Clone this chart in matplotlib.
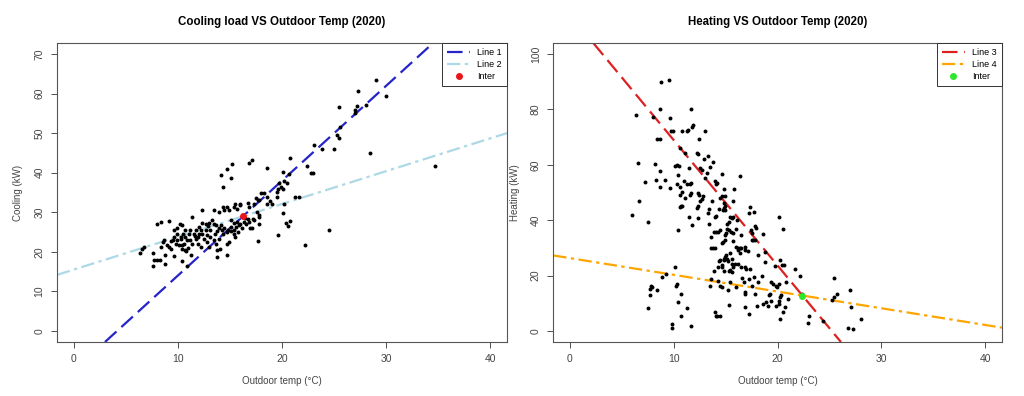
import matplotlib
matplotlib.use("Agg")
import matplotlib.pyplot as plt
import numpy as np

plt.rcParams['font.family'] = ['Liberation Sans', 'DejaVu Sans']

# cooling data (outdoor temp, kW)
cool_temp = [29.0, 27.3, 30.0, 25.5, 27.2, 27.0, 27.0, 28.1, 25.6, 25.3, 25.5, 23.1, 23.8, 25.0, 28.4,
             20.8, 22.4, 34.7, 22.8, 23.0, 20.1, 20.7, 18.6, 16.8, 17.1, 15.2, 14.7, 14.1, 15.1, 14.3,
             20.2, 19.7, 20.5, 19.9, 19.6, 20.1, 19.5, 19.5, 21.2, 21.6, 20.2, 20.1, 20.4, 20.6, 20.8,
             22.2, 24.5, 19.6, 17.7, 18.0, 18.3, 18.6, 18.8, 19.0, 18.6, 17.5, 17.7, 17.8, 17.3, 16.7,
             16.8, 16.0, 16.0, 15.5, 15.4, 15.7, 14.7, 14.9, 14.3, 14.4, 13.5, 13.9, 12.3, 11.4, 17.6,
             17.8, 17.2, 17.3, 17.8, 17.8, 16.7, 16.8, 16.3, 16.5, 16.9, 17.1, 16.2, 16.0, 15.7, 15.4,
             15.6, 15.4, 15.1, 15.1, 15.1, 14.8, 14.7, 14.3, 14.2, 14.4, 13.8, 13.9, 13.6, 13.5, 13.3,
             13.7, 13.0, 12.7, 12.3, 12.7, 12.3, 12.8, 13.1, 13.1, 12.2, 12.0, 11.7, 11.5, 11.2, 11.1,
             10.7, 10.5, 10.3, 10.7, 10.9, 10.6, 10.4, 10.4, 10.7, 10.3, 9.9, 9.8, 11.2, 11.4, 11.7,
             11.9, 11.9, 12.2, 12.5, 12.8, 13.0, 13.5, 13.7, 13.9, 11.3, 9.6, 9.5, 9.1, 9.3, 9.6,
             9.9, 9.9, 9.3, 9.0, 8.7, 10.2, 10.4, 8.4, 8.6, 8.0, 8.4, 9.1, 6.6, 6.4, 6.7, 7.6, 7.6,
             7.7, 8.0, 8.3, 8.8, 8.8, 9.6, 10.4, 10.9, 13.8, 13.8, 14.0, 14.7, 14.7, 14.9, 15.4, 15.5,
             15.8, 11.0, 10.1, 12.9, 11.6, 14.1, 16.4, 15.9, 12.0, 10.8]
cool_load = [63.5, 60.7, 59.4, 56.6, 56.8, 55.9, 55.0, 57.1, 51.5, 49.6, 48.8, 46.9, 46.1, 45.9, 45.0,
             43.8, 41.6, 41.7, 40.0, 40.0, 40.1, 39.8, 41.1, 42.4, 43.3, 42.2, 40.9, 39.3, 38.7, 36.5,
             37.9, 37.5, 37.5, 36.5, 36.0, 36.0, 35.2, 33.9, 33.8, 33.9, 32.1, 29.9, 27.3, 26.5, 27.8,
             21.7, 25.4, 24.3, 22.8, 34.8, 34.8, 33.9, 32.8, 32.2, 32.2, 33.5, 33.1, 33.1, 32.2, 32.4,
             31.4, 32.2, 31.8, 32.2, 31.4, 30.8, 31.4, 30.7, 31.4, 30.5, 30.5, 30.0, 30.5, 28.8, 30.1,
             29.3, 28.4, 28.0, 27.1, 28.8, 28.4, 27.6, 27.6, 27.1, 26.0, 26.0, 25.9, 27.1, 27.6, 27.3,
             26.3, 25.4, 28.0, 26.3, 25.3, 25.4, 24.9, 24.6, 25.4, 26.0, 25.3, 26.0, 24.6, 27.1, 28.0,
             26.7, 27.3, 27.0, 27.3, 25.4, 24.6, 24.2, 25.4, 23.7, 25.4, 26.3, 25.4, 24.6, 25.4, 24.6,
             25.4, 24.6, 23.7, 23.7, 22.9, 22.1, 21.6, 20.8, 20.5, 23.3, 22.9, 22.1, 22.9, 22.1, 23.3,
             23.7, 22.1, 21.2, 23.3, 22.5, 21.2, 22.9, 22.1, 23.3, 19.3, 23.7, 22.9, 21.2, 20.8, 25.4,
             24.6, 25.9, 22.7, 21.6, 22.9, 27.1, 26.7, 21.2, 22.5, 27.1, 27.6, 27.7, 20.8, 19.8, 21.2,
             19.8, 16.3, 18.0, 18.0, 18.0, 17.0, 19.1, 19.0, 17.8, 16.5, 18.8, 20.4, 20.8, 19.3, 22.1,
             22.5, 24.6, 23.7, 24.9, 21.0, 21.8, 26.5, 24.0, 26.8, 28.5, 26.8, 24.4, 20.2]

# heating data (outdoor temp, kW)
heat_temp = [8.8, 9.5, 6.4, 8.7, 11.7, 8.0, 9.6, 11.9, 11.8, 11.4, 11.3, 10.8, 9.9, 9.7, 13.0,
             8.4, 8.7, 12.4, 10.6, 11.1, 12.2, 12.3, 13.3, 12.9, 13.8, 6.6, 8.2, 10.3, 10.1, 10.5,
             11.5, 8.7, 13.5, 12.5, 12.7, 13.2, 10.4, 14.6, 16.4, 13.0, 7.2, 8.3, 9.2, 11.0, 11.3,
             11.6, 10.3, 11.7, 14.0, 14.2, 14.1, 8.7, 9.6, 10.6, 12.3, 12.4, 14.8, 15.8, 10.8, 10.6,
             11.7, 11.6, 11.1, 12.8, 12.7, 14.6, 14.9, 14.5, 15.7, 13.7, 12.5, 6.7, 10.7, 10.6, 10.8,
             12.2, 12.3, 14.8, 14.9, 14.8, 14.4, 14.9, 13.4, 13.3, 14.7, 14.1, 14.0, 15.4, 15.6, 15.7,
             17.3, 17.7, 6.0, 7.5, 11.5, 12.3, 11.8, 15.3, 15.1, 16.1, 17.2, 17.8, 17.9, 20.1, 20.5,
             13.4, 10.4, 13.9, 14.1, 14.3, 14.5, 15.1, 15.3, 16.0, 17.4, 17.5, 13.6, 14.9, 15.0, 15.7,
             15.5, 16.5, 18.6, 17.8, 14.9, 14.7, 14.6, 15.7, 17.5, 17.6, 13.6, 13.8, 14.0, 16.0, 16.2,
             16.4, 16.5, 16.9, 16.9, 16.2, 16.4, 17.1, 15.4, 15.0, 14.8, 14.9, 15.1, 14.8, 15.2, 14.5,
             14.4, 15.6, 18.1, 18.8, 18.8, 20.2, 20.4, 20.6, 19.7, 15.6, 15.9, 16.2, 16.5, 16.9, 17.0,
             15.7, 15.4, 15.6, 15.3, 14.6, 14.6, 14.3, 13.9, 14.8, 17.3, 17.7, 17.2, 16.6, 16.8, 18.5,
             18.1, 17.5, 21.7, 22.2, 20.8, 19.8, 19.9, 20.1, 19.4, 19.6, 19.2, 19.3, 19.4, 18.9, 19.1,
             18.6, 17.8, 16.9, 16.9, 16.0, 15.2, 14.5, 14.6, 14.3, 15.4, 18.0, 16.9, 17.2, 15.3, 19.8,
             20.1, 20.2, 20.3, 20.1, 21.0, 20.7, 20.5, 20.2, 14.0, 14.2, 14.5, 14.1, 13.5, 13.6, 10.1,
             9.3, 8.9, 7.8, 7.7, 7.9, 7.7, 8.4, 7.5, 10.3, 10.2, 10.7, 10.4, 11.3, 10.7, 9.8, 9.8,
             11.7, 23.0, 22.9, 22.3, 25.2, 25.4, 25.7, 25.4, 27.0, 27.1, 28.0, 26.8, 27.3, 24.4]
heat_load = [89.9, 90.8, 78.0, 80.2, 80.2, 77.2, 76.8, 74.4, 73.8, 72.5, 72.2, 72.3, 72.1, 72.1, 72.1,
             69.3, 69.5, 69.3, 66.0, 64.2, 64.4, 63.8, 63.2, 62.2, 61.0, 60.8, 60.4, 59.9, 59.5, 59.5,
             58.7, 57.8, 59.3, 58.7, 58.3, 57.1, 56.5, 56.7, 55.9, 55.3, 53.8, 54.4, 54.4, 54.1, 52.9,
             52.9, 53.1, 53.5, 54.1, 53.5, 52.9, 51.9, 51.6, 52.0, 49.8, 49.2, 51.3, 51.3, 50.1, 49.2,
             49.8, 49.2, 48.1, 48.6, 47.6, 48.6, 48.6, 48.0, 46.8, 46.8, 46.8, 46.8, 45.0, 44.7, 45.1,
             44.5, 45.0, 46.2, 45.0, 44.4, 44.0, 43.7, 44.0, 42.5, 43.7, 41.6, 41.1, 41.3, 40.7, 41.1,
             44.7, 43.1, 41.7, 39.2, 41.3, 40.7, 38.3, 39.5, 38.6, 40.1, 42.5, 38.0, 37.3, 41.3, 36.8,
             38.5, 36.5, 35.8, 35.8, 35.8, 36.5, 36.7, 36.5, 36.7, 36.5, 35.2, 34.0, 34.6, 35.2, 35.2,
             35.6, 34.6, 34.9, 32.8, 32.8, 32.2, 31.6, 32.4, 33.0, 32.8, 30.0, 30.0, 30.0, 30.4, 30.1,
             29.8, 30.1, 30.4, 29.4, 29.2, 28.3, 28.9, 28.2, 27.3, 26.1, 26.7, 25.8, 25.5, 25.2, 25.5,
             25.3, 26.1, 27.3, 28.6, 24.9, 25.5, 23.7, 23.7, 23.5, 24.3, 24.3, 24.1, 23.1, 23.1, 22.5,
             23.1, 21.9, 21.3, 21.6, 23.7, 23.1, 23.1, 21.6, 21.6, 22.5, 19.4, 18.8, 19.1, 17.6, 20.0,
             17.6, 16.3, 22.5, 20.0, 17.6, 16.4, 15.8, 17.0, 17.6, 17.0, 12.8, 13.4, 10.9, 10.3, 9.1,
             9.7, 13.4, 13.4, 14.0, 15.8, 14.6, 16.4, 15.8, 18.2, 17.6, 9.1, 8.5, 6.1, 9.4, 9.1,
             9.7, 12.2, 12.8, 10.9, 11.5, 8.5, 6.9, 4.3, 6.7, 5.5, 5.5, 5.5, 16.2, 18.8, 23.1,
             20.7, 19.4, 16.4, 15.2, 16.0, 13.0, 14.6, 8.1, 17.0, 16.4, 13.4, 10.6, 8.1, 5.5, 2.4, 1.2,
             1.8, 5.5, 3.0, 13.4, 11.2, 12.2, 13.4, 19.2, 14.9, 8.5, 4.3, 1.0, 0.6, 3.6]

# fitted lines: intercept, slope
line1 = (-10.0, 2.40)
line2 = (15.5, 0.83)
line3 = (114.2, -4.53)
line4 = (26.3, -0.604)


def intersect(a, b):
    x = (b[0] - a[0]) / (a[1] - b[1])
    return x, a[0] + a[1] * x


def style_axes(ax, ylim, yticks):
    ax.set_xlim(-1.6, 41.6)
    ax.set_ylim(ylim)
    ax.set_xticks([0, 10, 20, 30, 40])
    ax.set_yticks(yticks)
    for lab in ax.get_yticklabels():
        lab.set_rotation(90)
        lab.set_va('center')
    ax.tick_params(colors='#333333', labelsize=7.5, length=4, width=0.6, pad=5,
                   labelcolor='#444444')
    for s in ax.spines.values():
        s.set_color('#555555')
        s.set_linewidth(0.8)
    ax.set_xlabel("Outdoor temp (°C)", fontsize=7, color='#444444', labelpad=8)


fig = plt.figure(figsize=(10.24, 3.96), dpi=100)

ax1 = fig.add_axes([0.0557, 0.1364, 0.4395, 0.755])
ax1.scatter(cool_temp, cool_load, s=8, color='black', zorder=3, linewidths=0)
ax1.axline((0, line1[0]), slope=line1[1], color='#2424c8', lw=1.6, ls=(0, (7, 3)), label='Line 1')
ax1.axline((0, line2[0]), slope=line2[1], color='#add8e6', lw=1.6, ls=(0, (6, 2, 1.5, 2)), label='Line 2')
ix, iy = intersect(line1, line2)
ax1.plot([ix], [iy], 'o', color='#e8161b', ms=4, ls='none', label='Inter', zorder=4)
style_axes(ax1, (-2.8, 72.8), range(0, 71, 10))
ax1.set_ylabel("Cooling (kW)", fontsize=7, color='#444444', labelpad=8)
ax1.set_title("Cooling load VS Outdoor Temp (2020)", fontsize=8.3, fontweight='bold', pad=13)
leg = ax1.legend(loc='upper right', borderaxespad=0, fancybox=False, edgecolor='#333333',
                 framealpha=1, fontsize=6.5, handlelength=2.6, labelspacing=0.35, borderpad=0.55)
leg.get_frame().set_linewidth(0.7)

ax2 = fig.add_axes([0.5403, 0.1364, 0.4382, 0.755])
ax2.scatter(heat_temp, heat_load, s=8, color='black', zorder=3, linewidths=0)
ax2.axline((0, line3[0]), slope=line3[1], color='#dd2020', lw=1.6, ls=(0, (7, 3)), label='Line 3')
ax2.axline((0, line4[0]), slope=line4[1], color='#ffa500', lw=1.6, ls=(0, (6, 2, 1.5, 2)), label='Line 4')
jx, jy = intersect(line3, line4)
ax2.plot([jx], [jy], 'o', color='#2ee62e', ms=4, ls='none', label='Inter', zorder=4)
style_axes(ax2, (-4, 104), range(0, 101, 20))
ax2.set_ylabel("Heating (kW)", fontsize=7, color='#444444', labelpad=8)
ax2.set_title("Heating VS Outdoor Temp (2020)", fontsize=8.3, fontweight='bold', pad=13)
leg = ax2.legend(loc='upper right', borderaxespad=0, fancybox=False, edgecolor='#333333',
                 framealpha=1, fontsize=6.5, handlelength=2.6, labelspacing=0.35, borderpad=0.55)
leg.get_frame().set_linewidth(0.7)

plt.savefig("out.png", dpi=100)
